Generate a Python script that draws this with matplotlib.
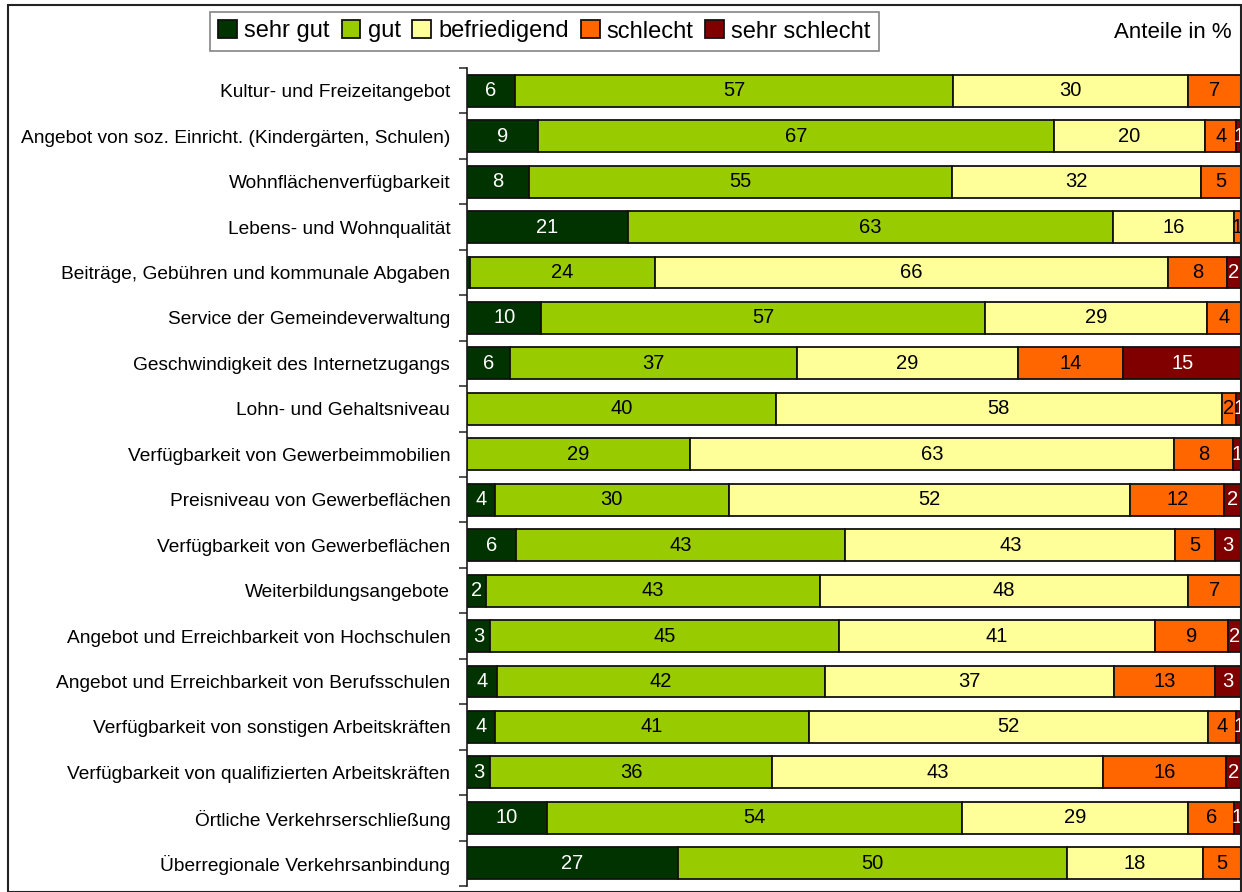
import numpy as np
import matplotlib as mpl
import matplotlib.pyplot as plt
from matplotlib.patches import Rectangle

mpl.rcParams['font.family'] = ['Liberation Sans', 'DejaVu Sans']

categories = [
    'Kultur- und Freizeitangebot',
    'Angebot von soz. Einricht. (Kindergärten, Schulen)',
    'Wohnflächenverfügbarkeit',
    'Lebens- und Wohnqualität',
    'Beiträge, Gebühren und kommunale Abgaben',
    'Service der Gemeindeverwaltung',
    'Geschwindigkeit des Internetzugangs',
    'Lohn- und Gehaltsniveau',
    'Verfügbarkeit von Gewerbeimmobilien',
    'Preisniveau von Gewerbeflächen',
    'Verfügbarkeit von Gewerbeflächen',
    'Weiterbildungsangebote',
    'Angebot und Erreichbarkeit von Hochschulen',
    'Angebot und Erreichbarkeit von Berufsschulen',
    'Verfügbarkeit von sonstigen Arbeitskräften',
    'Verfügbarkeit von qualifizierten Arbeitskräften',
    'Örtliche Verkehrserschließung',
    'Überregionale Verkehrsanbindung',
]

sehr_gut = [6.2, 9.2, 8.0, 20.8, 0.4, 9.6, 5.6, 0.0, 0.0, 3.6, 6.3, 2.4, 3.0, 3.9, 3.6, 3.0, 10.3, 27.2]
gut = [56.6, 66.6, 54.6, 62.6, 23.9, 57.3, 37.0, 39.9, 28.8, 30.2, 42.6, 43.2, 45.0, 42.3, 40.6, 36.4, 53.6, 50.3]
befriedigend = [30.3, 19.6, 32.2, 15.7, 66.3, 28.7, 28.6, 57.6, 62.6, 51.9, 42.6, 47.6, 40.9, 37.4, 51.6, 42.8, 29.3, 17.6]
schlecht = [6.9, 4.0, 5.2, 0.9, 7.6, 4.4, 13.6, 1.9, 7.6, 12.1, 5.1, 6.8, 9.4, 13.1, 3.6, 15.9, 5.9, 4.9]
sehr_schlecht = [0.0, 0.6, 0.0, 0.0, 1.8, 0.0, 15.2, 0.6, 1.0, 2.2, 3.4, 0.0, 1.7, 3.3, 0.6, 1.9, 0.9, 0.0]

series = ['sehr gut', 'gut', 'befriedigend', 'schlecht', 'sehr schlecht']
values = [sehr_gut, gut, befriedigend, schlecht, sehr_schlecht]
colors = ['#003300', '#99CC00', '#FFFF99', '#FF6600', '#800000']
text_colors = ['white', 'black', 'black', 'black', 'white']

fig = plt.figure(figsize=(12.42, 8.92), dpi=100)
ax = fig.add_axes([467 / 1242, 6 / 892, 774 / 1242, 818 / 892])

y = np.arange(len(categories))
left = np.zeros(len(categories))
handles = []
for name, vals, col, tcol in zip(series, values, colors, text_colors):
    vals = np.array(vals)
    bars = ax.barh(y, vals, left=left, height=0.7, color=col,
                   edgecolor='#111111', linewidth=1.3, label=name)
    handles.append(bars)
    for yi, (l, v) in enumerate(zip(left, vals)):
        lab = int(round(v))
        if lab > 0:
            ax.text(l + v / 2, yi, str(lab), ha='center', va='center',
                    color=tcol, fontsize=14.5)
    left += vals

ax.set_xlim(0, 100)
ax.set_ylim(len(categories) - 0.5, -0.5)
ax.set_yticks(y)
ax.set_yticklabels(categories, fontsize=13.8)
ax.set_yticks(np.arange(len(categories) + 1) - 0.5, minor=True)
ax.tick_params(axis='y', which='major', length=0, pad=12)
ax.tick_params(axis='y', which='minor', length=6, width=1.2, color='#333333')
ax.set_xticks([])
for s in ['top', 'right', 'bottom']:
    ax.spines[s].set_visible(False)
ax.spines['left'].set_linewidth(1.2)
ax.spines['left'].set_color('#1a1a1a')
ax.patch.set_alpha(0)

leg = fig.legend(handles=handles, loc='upper left',
                 bbox_to_anchor=(210 / 1242, 1 - 12 / 892), ncol=5,
                 fontsize=17, frameon=True, fancybox=False,
                 handlelength=0.8, handleheight=0.8, handletextpad=0.3,
                 columnspacing=0.5, borderpad=0.35, borderaxespad=0)
leg.get_frame().set_edgecolor('#666666')
leg.get_frame().set_linewidth(1.2)

fig.text(1232 / 1242, 1 - 32 / 892, 'Anteile in %', ha='right', va='center',
         fontsize=16)

fig.patches.append(Rectangle((8 / 1242, 0), (1241 - 8) / 1242, 1 - 5 / 892,
                             transform=fig.transFigure, fill=False,
                             edgecolor='#222222', linewidth=1.5))

fig.savefig('out.png', dpi=100)
